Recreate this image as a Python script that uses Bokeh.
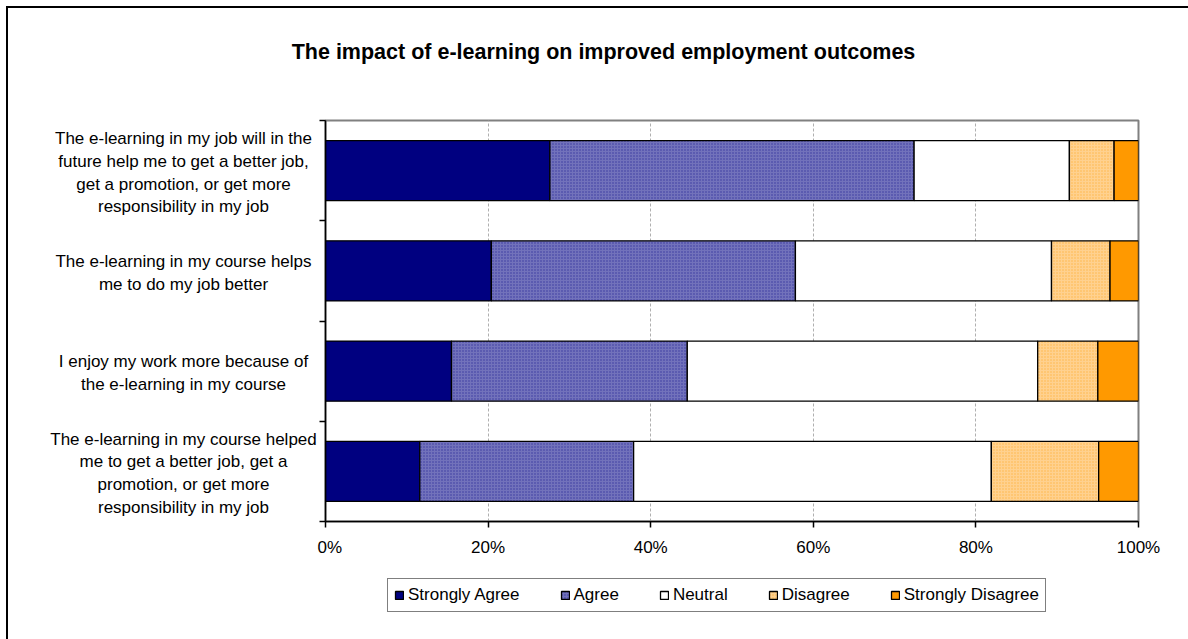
import numpy as np
from bokeh.plotting import figure
from bokeh.layouts import row, column
from bokeh.models import (FixedTicker, PrintfTickFormatter, ColumnDataSource, Range1d,
                          Legend, LegendItem)
from bokeh.core.properties import value
from bokeh.embed import file_html
from bokeh.resources import INLINE

title_text = "The impact of e-learning on improved employment outcomes"
questions = [
    "The e-learning in my job will in the\nfuture help me to get a better job,\nget a promotion, or get more\nresponsibility in my job",
    "The e-learning in my course helps\nme to do my job better",
    "I enjoy my work more because of\nthe e-learning in my course",
    "The e-learning in my course helped\nme to get a better job, get a\npromotion, or get more\nresponsibility in my job",
]
series_names = ["Strongly Agree", "Agree", "Neutral", "Disagree", "Strongly Disagree"]
strongly_agree = [27.6, 20.4, 15.5, 11.6]
agree = [44.8, 37.4, 29.0, 26.3]
neutral = [19.1, 31.5, 43.1, 44.0]
disagree = [5.5, 7.2, 7.4, 13.2]
strongly_disagree = [3.0, 3.5, 5.0, 4.9]
x_ticks = [0, 20, 40, 60, 80, 100]

FONT = "Liberation Sans"
W, H = 1188, 639
TITLE_H = 100
LEGEND_H = 64
LABEL_W = 317
MID_H = H - TITLE_H - LEGEND_H
n = len(questions)
yr = Range1d(0, n)
ypos = [n - i - 0.5 for i in range(n)]


def bare(fig):
    fig.outline_line_color = None
    fig.grid.visible = False
    fig.background_fill_color = "white"
    fig.border_fill_color = "white"
    return fig


# ---------------- title strip ----------------
pt = bare(figure(width=W, height=TITLE_H, output_backend="svg", toolbar_location=None,
                 x_range=(0, W), y_range=(TITLE_H, 0), x_axis_location=None, y_axis_location=None,
                 min_border=0))
pt.text(x=[603], y=[51], text=[title_text], text_align="center", text_baseline="middle",
        text_font=value(FONT), text_font_size="21.5px", text_font_style="bold", text_color="black")

# ---------------- main chart ----------------
p = figure(width=W - LABEL_W, height=MID_H, output_backend="svg", toolbar_location=None,
           x_range=(0, 100), y_range=yr,
           min_border_left=8, min_border_right=50, min_border_top=20, min_border_bottom=54)
p.background_fill_color = "white"
p.border_fill_color = "white"
p.outline_line_color = "#808080"
p.outline_line_width = 2

values = [strongly_agree, agree, neutral, disagree, strongly_disagree]
styles = [
    dict(fill_color="#000080"),
    dict(fill_color="#7272bb", hatch_pattern="dot", hatch_color="#000080", hatch_scale=3, hatch_weight=1, hatch_alpha=0.5),
    dict(fill_color="#ffffff"),
    dict(fill_color="#ffd18f", hatch_pattern="dot", hatch_color="#ff9900", hatch_scale=3, hatch_weight=1, hatch_alpha=0.5),
    dict(fill_color="#ff9900"),
]
sources = []
left = np.zeros(n)
for name, vals, st in zip(series_names, values, styles):
    vals = np.array(vals, dtype=float)
    src = ColumnDataSource(dict(y=ypos, left=left.copy(), right=left + vals))
    sources.append(src)
    p.hbar(y="y", left="left", right="right", height=0.6, source=src,
           line_color="black", line_width=1.3, **st)
    left = left + vals

xa = p.xaxis[0]
xa.ticker = FixedTicker(ticks=x_ticks)
xa.formatter = PrintfTickFormatter(format="%d%%")
xa.axis_line_color = "black"
xa.axis_line_width = 1.5
xa.major_tick_line_color = "black"
xa.major_tick_line_width = 1.5
xa.major_tick_out = 6
xa.major_tick_in = 0
xa.minor_tick_line_color = None
xa.major_label_text_font = FONT
xa.major_label_text_font_size = "17px"
xa.major_label_text_color = "black"
xa.major_label_standoff = 10

ya = p.yaxis[0]
ya.ticker = FixedTicker(ticks=list(range(n + 1)))
ya.major_label_overrides = {i: "" for i in range(n + 1)}
ya.axis_line_color = "black"
ya.axis_line_width = 1.5
ya.major_tick_line_color = "black"
ya.major_tick_line_width = 1.5
ya.major_tick_out = 6
ya.major_tick_in = 0
ya.minor_tick_line_color = None
ya.major_label_standoff = 0

p.xgrid.ticker = FixedTicker(ticks=[20, 40, 60, 80])
p.xgrid.grid_line_color = "#b0b0b0"
p.xgrid.grid_line_dash = "3 2"
p.xgrid.grid_line_width = 1
p.ygrid.grid_line_color = None

# ---------------- category labels panel ----------------
pl = bare(figure(width=LABEL_W, height=MID_H, output_backend="svg", toolbar_location=None,
                 x_range=(0, LABEL_W), y_range=yr, x_axis_location=None, y_axis_location=None,
                 min_border_left=0, min_border_right=0, min_border_top=20, min_border_bottom=54))
label_src = ColumnDataSource(dict(x=[183] * n, y=ypos, text=questions))
pl.text(x="x", y="y", text="text", source=label_src, text_align="center", text_baseline="middle",
        y_offset=2, text_font=value(FONT), text_font_size="17px", text_color="black",
        text_line_height=1.2)

# ---------------- legend strip ----------------
# legend glyph proxies: hidden renderers that reuse the series sources
pg = bare(figure(width=W, height=LEGEND_H, output_backend="svg", toolbar_location=None,
                 x_range=(0, 1), y_range=(0, 1), x_axis_location=None, y_axis_location=None,
                 min_border=0))
items = []
for name, st, src in zip(series_names, styles, sources):
    r = pg.hbar(y="y", left="left", right="right", height=0.6, source=src,
                line_color="black", line_width=1.3, visible=False, **st)
    items.append(LegendItem(label=name, renderers=[r]))
lg = Legend(items=items, orientation="horizontal", location=(387, 27),
            border_line_color="black", border_line_width=1.5,
            background_fill_color="white", background_fill_alpha=1,
            label_text_font=FONT, label_text_font_size="17px", label_text_color="black",
            glyph_width=10, glyph_height=10, label_standoff=4, label_height=18,
            spacing=40, padding=6, margin=0, click_policy="none",
            inactive_fill_alpha=0)
pg.add_layout(lg)

layout = column(pt, row(pl, p, spacing=0), pg, spacing=0)

html = file_html(layout, INLINE)
border_css = ("<style>body::after{content:'';position:fixed;left:6px;top:6px;right:0;bottom:0;"
              "border-left:2.5px solid #000;border-top:2.5px solid #000;pointer-events:none;}</style>")
html = html.replace("</head>", border_css + "</head>", 1)
open("out.html", "w").write(html)
